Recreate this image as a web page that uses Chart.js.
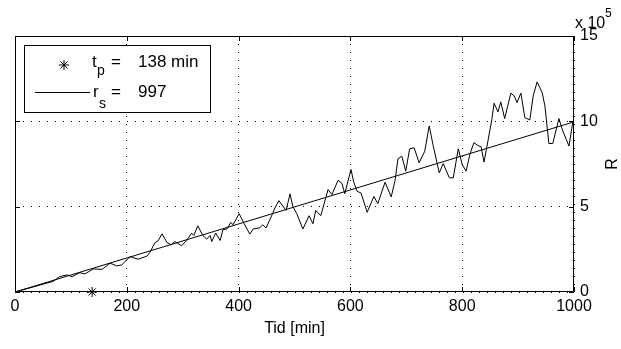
<!DOCTYPE html>
<html>
<head>
<meta charset="utf-8">
<script src="https://cdn.jsdelivr.net/npm/chart.js@4/dist/chart.umd.min.js"></script>
<style>
  body { margin: 0; background: #fff; }
  canvas { display: block; }
</style>
</head>
<body>
<canvas id="myChart" width="621" height="349"></canvas>
<script>
// measured series, R in units of 10^5
const timeMin = [0,68,80,93,102,116,125,140,156,170,182,191,206,220,236,241,250,256,263,272,279,286,298,307,316,320,327,336,343,349,352,359,367,372,379,386,390,401,410,420,426,438,443,449,460,465,472,485,492,497,504,515,526,533,538,547,560,567,578,585,590,601,606,612,619,630,642,649,662,673,680,685,692,699,706,714,723,733,741,748,759,766,777,784,793,800,807,814,821,828,834,839,846,853,857,864,869,876,887,893,898,905,912,921,927,934,943,948,955,962,973,980,991,998];
const rValues = [0,0.62,0.9,1.0,0.9,1.13,1.06,1.35,1.33,1.69,1.53,1.59,2.08,1.92,2.1,2.3,2.88,3.0,3.41,2.9,2.76,2.96,2.71,3.02,3.45,3.31,3.88,3.31,3.1,3.31,2.96,3.45,3.02,3.65,3.69,4.08,3.94,4.59,4.0,3.39,3.69,3.76,3.94,3.75,4.53,4.92,5.35,4.78,5.75,5.02,4.59,3.69,4.47,4.0,4.78,4.47,6.0,5.71,6.55,6.35,5.76,7.18,6.43,5.9,5.8,4.67,5.6,5.18,6.43,5.57,6.55,7.8,7.96,7.08,8.39,8.45,7.57,8.25,9.73,8.59,6.98,7.53,6.69,6.69,8.39,7.47,7.08,8.1,8.75,8.59,8.5,7.61,8.84,10.1,11.06,10.55,11.14,10.16,11.65,11.49,11.1,11.65,10.22,10.08,11.49,12.31,11.69,10.9,8.7,8.7,10.16,9.43,8.55,10.0];

// fitted line r_s = 997
const fitTime = [0, 1000];
const fitR = [0, 9.97];

// t_p marker
const tpTime = [138];
const tpR = [0];

const xTicks = [0, 200, 400, 600, 800, 1000];
const yTicks = [0, 5, 10, 15];

const FONT = '"Liberation Sans", Arial, Helvetica, sans-serif';

window.onload = function(){
    function pts(xs, ys){
        return xs.map(function(x, i){ return {x: x, y: ys[i]}; });
    }

    // box, inward ticks, legend and extra labels
    const matlabDecor = {
        id: 'matlabDecor',
        afterDraw: function(chart){
            const ctx = chart.ctx;
            const a = chart.chartArea;
            const xs = chart.scales.x, ys = chart.scales.y;
            ctx.save();
            ctx.strokeStyle = '#000';
            ctx.lineWidth = 1;
            ctx.beginPath();
            ctx.rect(Math.round(a.left) + 0.5, Math.round(a.top) + 0.5,
                     Math.round(a.right - a.left) - 1, Math.round(a.bottom - a.top) - 1);
            ctx.stroke();

            ctx.beginPath();
            xTicks.forEach(function(v){
                const px = Math.round(xs.getPixelForValue(v)) + 0.5;
                ctx.moveTo(px, a.bottom); ctx.lineTo(px, a.bottom - 5);
                ctx.moveTo(px, a.top); ctx.lineTo(px, a.top + 5);
            });
            yTicks.forEach(function(v){
                const py = Math.round(ys.getPixelForValue(v)) + 0.5;
                ctx.moveTo(a.left, py); ctx.lineTo(a.left + 5, py);
                ctx.moveTo(a.right, py); ctx.lineTo(a.right - 5, py);
            });
            ctx.stroke();

            // legend
            ctx.fillStyle = '#fff';
            ctx.fillRect(24.5, 45.5, 186, 67);
            ctx.strokeRect(24.5, 45.5, 186, 67);

            // asterisk marker
            const cx = 64, cy = 65, r = 5;
            ctx.beginPath();
            for (let k = 0; k < 4; k++) {
                const ang = k * Math.PI / 4;
                ctx.moveTo(cx - r * Math.cos(ang), cy - r * Math.sin(ang));
                ctx.lineTo(cx + r * Math.cos(ang), cy + r * Math.sin(ang));
            }
            ctx.stroke();

            ctx.beginPath();
            ctx.moveTo(35, 92.5); ctx.lineTo(90, 92.5);
            ctx.stroke();

            ctx.fillStyle = '#000';
            ctx.textBaseline = 'alphabetic';
            ctx.textAlign = 'left';
            ctx.font = '17px ' + FONT;
            ctx.fillText('t', 92, 67);
            ctx.fillText('=', 111, 67);
            ctx.fillText('138 min', 138, 67);
            ctx.fillText('r', 93, 97);
            ctx.fillText('=', 111, 97);
            ctx.fillText('997', 138, 97);
            ctx.font = '14px ' + FONT;
            ctx.fillText('p', 97, 75);
            ctx.fillText('s', 99, 108);

            // exponent label
            ctx.font = '16px ' + FONT;
            ctx.fillText('x 10', 575, 28);
            ctx.font = '12px ' + FONT;
            ctx.fillText('5', 605, 17);

            // y axis title
            ctx.font = '16px ' + FONT;
            ctx.translate(613, 164);
            ctx.rotate(-Math.PI / 2);
            ctx.textAlign = 'center';
            ctx.textBaseline = 'middle';
            ctx.fillText('R', 0, 0);
            ctx.restore();
        }
    };

    const data = {
        datasets: [
            {
                label: 'r_s = 997',
                data: pts(fitTime, fitR),
                borderColor: '#000',
                borderWidth: 1,
                pointRadius: 0,
                tension: 0
            },
            {
                label: 'R',
                data: pts(timeMin, rValues),
                borderColor: '#000',
                borderWidth: 1,
                pointRadius: 0,
                tension: 0
            },
            {
                label: 't_p = 138 min',
                data: pts(tpTime, tpR),
                showLine: false,
                pointStyle: 'star',
                pointRadius: 5,
                borderColor: '#000',
                borderWidth: 1,
                clip: false
            }
        ]
    };

    const config = {
        type: 'line',
        data: data,
        options: {
            responsive: false,
            devicePixelRatio: 1,
            animation: false,
            layout: { padding: { left: 15, top: 36, right: 0, bottom: 0 } },
            plugins: {
                legend: { display: false },
                tooltip: { enabled: false }
            },
            scales: {
                x: {
                    type: 'linear',
                    min: 0,
                    max: 1000,
                    afterBuildTicks: function(scale){
                        scale.ticks = xTicks.map(function(v){ return {value: v}; });
                    },
                    afterFit: function(scale){ scale.height = 57; },
                    ticks: {
                        color: '#000',
                        font: { family: FONT, size: 16 },
                        padding: 5,
                        maxRotation: 0,
                        autoSkip: false,
                        callback: function(v){ return String(v); }
                    },
                    grid: {
                        color: '#000',
                        lineWidth: 1,
                        drawTicks: false
                    },
                    border: { display: false, dash: [1, 7] },
                    title: {
                        display: true,
                        text: 'Tid [min]',
                        color: '#000',
                        font: { family: FONT, size: 16 },
                        padding: { top: 11, bottom: 11 }
                    }
                },
                y: {
                    type: 'linear',
                    position: 'right',
                    min: 0,
                    max: 15,
                    afterBuildTicks: function(scale){
                        scale.ticks = yTicks.map(function(v){ return {value: v}; });
                    },
                    afterFit: function(scale){ scale.width = 47; },
                    ticks: {
                        color: '#000',
                        font: { family: FONT, size: 16 },
                        padding: 6,
                        callback: function(v){ return String(v); }
                    },
                    grid: {
                        color: '#000',
                        lineWidth: 1,
                        drawTicks: false
                    },
                    border: { display: false, dash: [1, 7] }
                }
            }
        },
        plugins: [matlabDecor]
    };

    const myChart = new Chart(document.getElementById('myChart'), config);
}
</script>
</body>
</html>
